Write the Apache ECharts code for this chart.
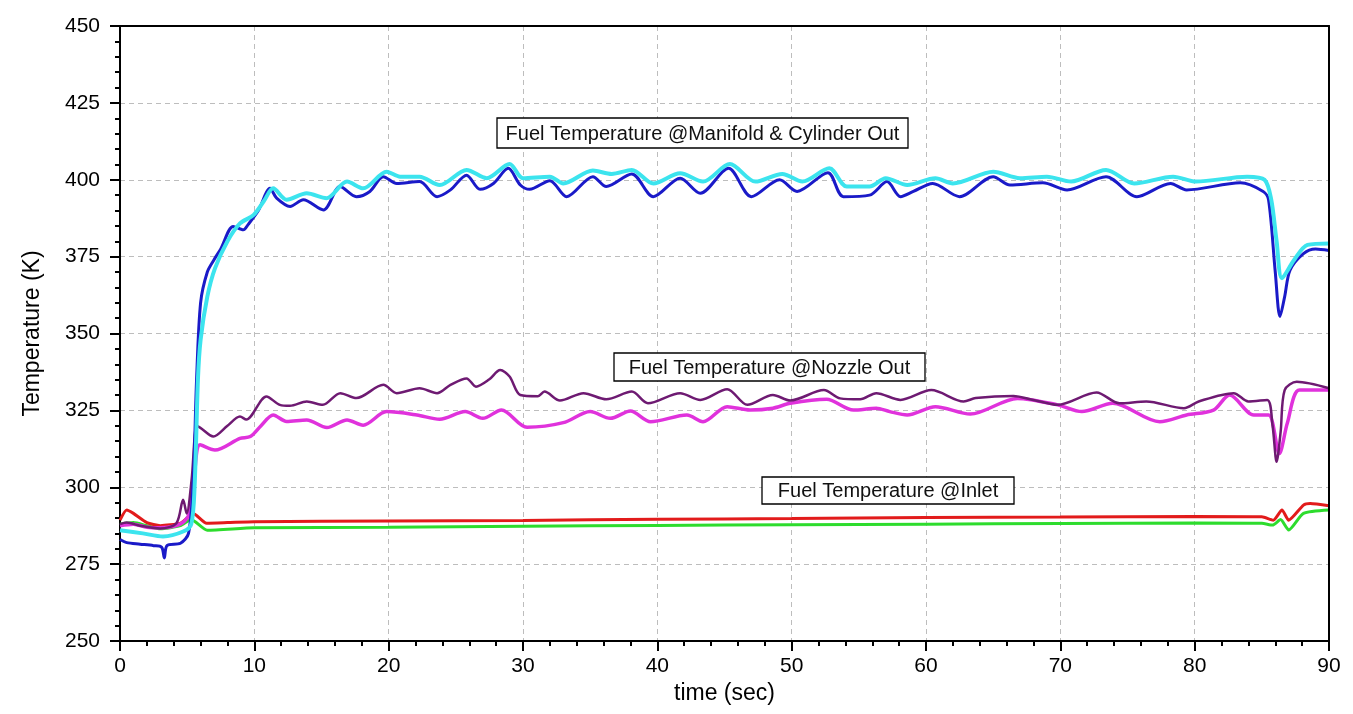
<!DOCTYPE html>
<html>
<head>
<meta charset="utf-8">
<script src="https://cdn.jsdelivr.net/npm/echarts@6/dist/echarts.min.js"></script>
<style>
html,body{margin:0;padding:0;background:#fff;}
#c{width:1353px;height:714px;}
</style>
</head>
<body>
<div id="c"></div>
<script>
// ---- data (time in sec, temperature in K) ----
var xTicks = [0, 10, 20, 30, 40, 50, 60, 70, 80, 90];
var yTicks = [250, 275, 300, 325, 350, 375, 400, 425, 450];

var blueT = [0,0.5,1.5,2.5,3.1,3.3,3.5,4.5,5.1,5.45,5.7,6.0,6.5,7.0,7.5,8.43,9.18,9.55,10.3,11.17,11.66,12.66,13.65,15.14,16.38,17.6,18.6,19.6,20.6,22.3,23.6,24.6,25.8,26.8,27.8,28.9,29.8,30.5,32.0,33.25,35.2,36.2,38.1,39.7,41.7,43.2,45.3,47.0,49.1,50.4,52.7,53.85,55.8,57.1,58.1,59.06,60.5,62.5,65,66.25,68.7,70.5,73.4,75.7,78.2,79.4,83.4,85.1,85.5,86.0,86.35,86.7,87.1,88.1,89,90];
var blueV = [283,282,281.5,281,280.5,277,281,281.8,285,302,335,360,370,374,377.5,384.8,383.7,385.5,390,397.2,394,391.3,393.5,390.2,397.8,394.5,396.2,401,398.8,399.4,394.5,396.7,401.5,396.9,398.8,403.7,398.3,396.9,399.7,394.5,401,397.8,401.9,394.5,400.5,395.6,403.7,394.5,400,396.2,402.3,394.5,395,399.4,394.5,396.2,398.8,394.5,401,398.3,399,396.7,401,394.5,398.8,396.7,399,396.2,393.5,370,355.5,362,370.6,376,377.5,377];

var cyanT = [0,1.7,3.2,4.7,5.3,5.55,5.8,6.0,6.5,7.07,8.0,8.93,9.93,10.7,11.4,12.4,13.9,15.38,16.9,18.1,19.85,20.85,22.3,23.8,25.8,27.3,29.0,30,32,33,35.2,36.6,38.1,39.7,41.7,43.4,45.4,47.3,49.3,50.8,52.8,54.1,55.8,57,58.6,60.7,62,65,67,69,70.8,73.4,75.5,78.4,80.1,83.9,85.2,85.7,86.1,86.5,87.4,88.4,90];
var cyanV = [286,285,284,285.6,288,300,335,348,362,371.2,380,385.8,388.5,393,397.2,393.5,395.6,394,399.4,397.2,402.6,401,401,398.3,403.2,400.5,405.1,400.5,401,398.8,403,401.9,403.2,398.8,402.1,399.4,405.1,399.4,401.9,399.4,403.7,397.8,397.8,400.5,398.3,400.5,398.8,402.6,400.5,401,399.4,403.2,398.8,401,399.4,401,400,393.5,380,368,373.9,378.8,379.3];

var purpleT = [0,0.5,1.5,3,4.2,4.7,4.96,5.33,5.7,5.96,6.95,8.0,8.93,9.4,10.9,11.9,12.65,13.9,15.1,16.4,17.6,19.6,20.6,22.3,23.6,24.6,25.8,26.5,27.5,28.3,29.0,29.8,31.1,31.6,32.75,34.5,36.2,38.1,39.3,41.7,43.2,45.2,46.7,48.6,49.9,52.4,53.6,55.1,56.3,58.1,60.4,62.8,63.7,66.5,68,69.8,72.7,74.4,76.4,79.2,80.3,82.9,84,85.4,85.8,86.1,86.4,86.7,87.6,90];
var purpleV = [288,288.5,287.5,286.6,288.3,295.9,291.5,302.4,319.8,319.4,316.5,320,323,322,329.5,326.8,326.5,327.9,326.8,330.6,329,333.3,330.6,332.2,330.6,333.3,335.4,332.7,335.1,338.1,336,330,329.6,331.1,328.2,330.6,328.6,331.1,327.3,330.6,328.4,331.9,326.8,330,328.2,331.6,328.9,328.6,330.6,328.4,331.6,327.9,329,329.7,328.4,326.8,330.8,327.3,327.9,325.7,327.9,330.6,327.9,328.4,320,308.3,318,331.6,334.3,332.2];

var magentaT = [0,1,2,3,4,4.8,5.2,5.5,5.96,7.07,8.93,9.7,10.5,11.4,12.4,13.9,15.4,16.9,18.1,19.85,22.1,23.8,25.7,27,28.4,30.3,33,35,36.5,38,39.5,42.2,43.4,45.2,46.9,48.6,49.9,52.6,54.6,56.3,57.3,58.6,60.7,63.3,66.8,69.8,71.6,73.9,77.4,79.4,81.4,82.6,84.4,85.5,86.3,86.9,87.8,90];
var magentaV = [287.5,288,287,286.8,287.3,289,292,302,313.8,312.1,315.9,316.5,320,323.5,321.4,321.9,319.4,321.9,320.2,324.6,323.5,322.1,324.6,322.4,325.1,319.5,321,324.6,322.4,324.8,321.3,323.5,321.3,326.2,325.1,325.7,327.3,328.6,325.1,325.7,324.6,323.5,326.2,323.8,328.9,326.8,324.6,327.3,321.3,323.5,325.1,330,323.5,323.5,311,320.9,331.6,331.6];

var redT = [0,0.5,1,2,3,4.5,5,5.45,6.45,8,10,20,30,40,50,60,70,80,85,85.85,86.5,87.0,88.1,88.6,90];
var redV = [289.3,292.6,291.5,288.5,287.5,288.3,290,291.5,288.3,288.5,288.8,289,289.2,289.6,289.8,290.2,290.3,290.5,290.4,289.3,292.6,289.3,294.2,294.7,294];

var greenT = [0,1,2,3,4.5,5.3,6.5,10,20,30,40,50,60,70,80,85,85.8,86.4,87,88.1,90];
var greenV = [288,288.5,287.5,286.5,287.5,289.5,286,286.8,287,287.3,287.6,287.8,288,288.2,288.4,288.3,287.7,289.5,286.1,291.5,292.6];

var labels = [
  {text: 'Fuel Temperature @Manifold & Cylinder Out', x: 497, y: 118, w: 411, h: 30},
  {text: 'Fuel Temperature @Nozzle Out', x: 614, y: 353, w: 311, h: 28},
  {text: 'Fuel Temperature @Inlet', x: 762, y: 477, w: 252, h: 27}
];

function zip(t, v){ return t.map(function(x,i){ return [x, v[i]]; }); }

var FONT = "'Liberation Sans', Arial, sans-serif";

var chart = echarts.init(document.getElementById('c'));

function mk(name, t, v, color, width, smooth){
  return {
    name: name, type: 'line', data: zip(t, v), showSymbol: false, symbol: 'none',
    smooth: smooth,
    lineStyle: {color: color, width: width}, itemStyle: {color: color},
    silent: true, z: 3
  };
}

var graphics = [];
labels.forEach(function(l){
  graphics.push({
    type: 'rect', shape: {x: l.x, y: l.y, width: l.w, height: l.h},
    style: {fill: '#fff', stroke: '#000', lineWidth: 1.3}, z: 100
  });
  graphics.push({
    type: 'text', x: l.x + l.w/2, y: l.y + l.h/2 + 1,
    style: {text: l.text, fill: '#111', font: '20px ' + FONT, textAlign: 'center', textVerticalAlign: 'middle'},
    z: 101
  });
});

var plainAxis = {
  axisLine: {show: true, onZero: false, lineStyle: {color: '#000', width: 2}},
  axisTick: {show: false}, axisLabel: {show: false}, splitLine: {show: false}
};

chart.setOption({
  animation: false,
  backgroundColor: '#fff',
  grid: {left: 120, right: 24, top: 26, bottom: 73},
  xAxis: [{
    type: 'value', min: xTicks[0], max: xTicks[xTicks.length-1], interval: 10,
    name: 'time (sec)', nameLocation: 'middle', nameGap: 40,
    nameTextStyle: {fontFamily: FONT, fontSize: 23, color: '#000'},
    axisLine: {show: true, onZero: false, lineStyle: {color: '#000', width: 2}},
    axisTick: {show: true, length: 10, lineStyle: {color: '#000', width: 2}},
    minorTick: {show: true, splitNumber: 5, length: 5, lineStyle: {color: '#000', width: 2}},
    axisLabel: {fontFamily: FONT, fontSize: 21, color: '#000', margin: 15},
    splitLine: {show: true, lineStyle: {color: '#bdbdbd', type: [5, 4], width: 1}}
  }, Object.assign({type: 'value', position: 'top', min: xTicks[0], max: xTicks[xTicks.length-1], interval: 10, z: 10}, plainAxis)],
  yAxis: [{
    type: 'value', min: yTicks[0], max: yTicks[yTicks.length-1], interval: 25,
    name: 'Temperature (K)', nameLocation: 'middle', nameGap: 76,
    nameTextStyle: {fontFamily: FONT, fontSize: 23, color: '#000'},
    axisLine: {show: true, lineStyle: {color: '#000', width: 2}},
    axisTick: {show: true, length: 10, lineStyle: {color: '#000', width: 2}},
    minorTick: {show: true, splitNumber: 5, length: 5, lineStyle: {color: '#000', width: 2}},
    axisLabel: {fontFamily: FONT, fontSize: 21, color: '#000', margin: 20},
    splitLine: {show: true, lineStyle: {color: '#bdbdbd', type: [5, 4], width: 1}}
  }, Object.assign({type: 'value', position: 'right', min: yTicks[0], max: yTicks[yTicks.length-1], interval: 25, z: 10}, plainAxis)],
  series: [
    mk('Inlet 2', greenT, greenV, '#2ddc2d', 3, 0.2),
    mk('Inlet 1', redT, redV, '#e21b1b', 3, 0.2),
    mk('Nozzle 2', magentaT, magentaV, '#e032dc', 3.5, 0.3),
    mk('Nozzle 1', purpleT, purpleV, '#6e1a72', 2.5, 0.3),
    mk('Manifold', blueT, blueV, '#1a1ac8', 3, 0.3),
    mk('Cylinder', cyanT, cyanV, '#3ce4ee', 4, 0.3)
  ],
  graphic: graphics
});
</script>
</body>
</html>
